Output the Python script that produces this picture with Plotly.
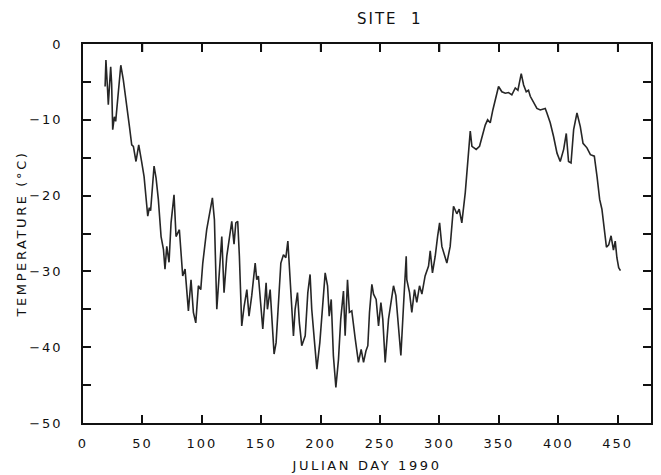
import plotly.graph_objects as go

day = [18.6, 19.3, 20.7, 21.3, 23.3, 24.1, 25.0, 26.4, 27.5, 29.8, 31.8, 33.9, 36.8, 39.1, 41.0, 42.4, 44.6, 46.9, 49.3, 51.4,
       53.6, 54.5, 55.8, 56.9, 59.8, 61.5, 63.4, 65.7, 67.7, 69.0, 70.5, 72.4, 74.1, 76.6, 78.3, 81.1, 83.9, 85.9, 88.7, 90.9,
       92.9, 94.9, 97.1, 99.1, 100.8, 104.1, 108.9, 110.6, 112.6, 114.8, 116.8, 118.7, 121.0, 125.2, 127.1, 128.6, 130.2, 131.6,
       133.6, 135.6, 137.9, 139.7, 142.0, 144.9, 146.2, 147.6, 151.3, 154.1, 155.2, 157.5, 160.8, 162.5, 164.5, 166.5, 168.7,
       170.7, 172.4, 174.3, 175.7, 177.1, 178.5, 180.5, 182.1, 184.1, 187.0, 189.2, 191.1, 192.5, 194.6, 196.8, 199.3, 201.9,
       203.8, 205.8, 207.2, 208.9, 210.7, 212.8, 215.0, 216.9, 219.2, 220.6, 222.6, 224.2, 226.2, 229.1, 231.8, 234.1, 236.1,
       238.1, 239.7, 241.1, 243.1, 244.5, 246.7, 248.7, 250.7, 252.3, 254.3, 257.1, 261.3, 263.3, 265.6, 267.5, 269.7, 272.0,
       272.5, 274.8, 276.7, 279.0, 280.9, 283.2, 285.2, 287.9, 290.8, 292.2, 294.1, 296.4, 298.4, 300.1, 302.0, 306.2, 309.0,
       311.8, 314.6, 316.6, 318.8, 321.7, 324.4, 325.9, 327.3, 330.9, 333.7, 336.5, 338.5, 340.5, 342.7, 344.9, 346.9, 349.7,
       352.5, 355.4, 358.1, 360.9, 363.8, 366.0, 368.8, 370.8, 373.0, 374.9, 376.4, 379.1, 382.0, 384.8, 389.0, 390.4, 393.2,
       396.0, 398.9, 401.6, 404.5, 406.7, 408.6, 410.7, 412.9, 415.7, 418.5, 420.8, 424.1, 427.0, 430.3, 432.6, 434.8, 436.7,
       438.5, 440.5, 442.4, 444.4, 446.4, 447.9, 449.3, 450.8, 452.3]

temp = [-5.6, -2.1, -6.1, -8.0, -3.0, -5.2, -11.3, -9.6, -10.2, -6.0, -2.8, -4.7, -7.8, -10.9, -13.3, -13.5, -15.5, -13.3, -15.5, -17.5,
        -21.2, -22.7, -21.6, -22.0, -16.1, -17.7, -20.5, -25.4, -27.1, -29.7, -26.7, -28.8, -23.6, -19.9, -25.4, -24.5, -30.6, -29.7, -35.2, -31.1,
        -35.4, -36.8, -31.9, -32.4, -28.9, -24.5, -20.3, -23.2, -35.0, -29.7, -25.4, -32.8, -28.0, -23.4, -26.4, -23.6, -23.4, -28.0,
        -37.2, -34.6, -32.4, -35.9, -33.2, -28.9, -31.1, -30.6, -37.6, -31.5, -35.0, -32.4, -40.9, -39.4, -34.6, -28.9, -27.8,
        -28.2, -26.0, -30.6, -35.0, -38.5, -35.0, -32.8, -36.8, -39.8, -38.5, -32.8, -30.4, -35.0, -38.9, -42.9, -39.4, -34.6,
        -30.2, -31.9, -35.9, -33.7, -41.1, -45.3, -41.6, -36.3, -32.6, -38.5, -31.1, -35.4, -35.2, -38.9, -42.0, -40.3, -42.0,
        -40.5, -39.8, -35.4, -31.7, -33.0, -33.7, -37.2, -34.1, -36.3, -42.0, -36.3, -31.9, -33.2, -37.2, -41.1, -34.6, -28.0,
        -31.1, -32.8, -35.4, -32.4, -34.1, -31.9, -33.0, -30.6, -29.3, -27.3, -30.2, -28.0, -25.4, -23.6, -26.7, -28.9, -26.7,
        -21.4, -22.4, -21.8, -23.6, -19.6, -14.4, -11.5, -13.5, -13.9, -13.5, -11.8, -10.7, -10.0, -10.4, -8.7, -7.4, -5.6,
        -6.3, -6.5, -6.4, -6.7, -5.8, -6.1, -3.9, -5.4, -6.3, -6.1, -6.9, -7.6, -8.5, -8.7, -8.5, -9.1, -10.4,
        -12.2, -14.4, -15.5, -13.9, -11.8, -15.5, -15.7, -11.3, -9.1, -10.9, -13.1, -13.7, -14.6, -14.8, -17.5, -20.5, -21.8,
        -24.5, -26.8, -26.5, -25.3, -27.2, -26.0, -28.2, -29.5, -29.9]

x_ticks = [0, 50, 100, 150, 200, 250, 300, 350, 400, 450]
y_ticks = [0, -5, -10, -15, -20, -25, -30, -35, -40, -45, -50]
y_labels = ["0", "", "\u221210", "", "\u221220", "", "\u221230", "", "\u221240", "", "\u221250"]

FONT = "DejaVu Sans, Verdana, sans-serif"
INK = "#111111"
TICKLEN = 8
PLOT_H = 475 - 44 - 52

fig = go.Figure()
fig.add_trace(go.Scatter(x=day, y=temp, mode="lines",
                         line=dict(color="#262626", width=1.6), showlegend=False))

tick_style = dict(ticks="inside", ticklen=TICKLEN, tickwidth=1.5, tickcolor=INK)
tfont = dict(family=FONT, size=13, color=INK)

# inward tick marks along the top frame, placed at the x tick values through the x scale
top_ticks = [dict(type="line", xref="x", yref="paper", x0=v, x1=v, y0=1, y1=1 - TICKLEN / PLOT_H,
                  line=dict(color=INK, width=1.6), layer="above")
             for v in x_ticks if v > 0]

fig.update_layout(
    template="none",
    width=661, height=475,
    margin=dict(l=83, r=10, t=44, b=52, autoexpand=False),
    plot_bgcolor="white", paper_bgcolor="white",
    xaxis=dict(range=[0, 478], tickvals=x_ticks, ticklabelstandoff=8, showgrid=False, zeroline=False,
               showline=True, linecolor=INK, linewidth=1.6, mirror="allticks", tickfont=tfont,
               automargin=False,
               title=dict(text="JULIAN DAY 1990", font=tfont, standoff=10), **tick_style),
    yaxis=dict(range=[-50, 0], tickvals=y_ticks, ticktext=y_labels, ticklabelstandoff=16, showgrid=False,
               zeroline=False, showline=True, linecolor=INK, linewidth=1.6, mirror="allticks", tickfont=tfont,
               automargin=False,
               title=dict(text="TEMPERATURE (\u00b0C)", font=tfont, standoff=6), **tick_style),
    shapes=top_ticks,
    annotations=[dict(text="SITE\u00a0\u00a01", x=0.54, y=1, xref="paper", yref="paper", xanchor="center",
                      yanchor="bottom", yshift=14, showarrow=False,
                      font=dict(family=FONT, size=15, color=INK))],
)

# widen letter spacing to mimic the plotter lettering of the original
spacing_js = """
var gd = document.getElementsByClassName('plotly-graph-div')[0];
function spread(){
  gd.querySelectorAll('.xtitle, .ytitle').forEach(function(e){e.style.letterSpacing='2.6px';});
  gd.querySelectorAll('.xtick text, .ytick text').forEach(function(e){e.style.letterSpacing='2px';});
  gd.querySelectorAll('.annotation-text').forEach(function(e){e.style.letterSpacing='2px';});
}
spread();
gd.on('plotly_afterplot', spread);
"""

fig.write_html("out.html", post_script=spacing_js)
